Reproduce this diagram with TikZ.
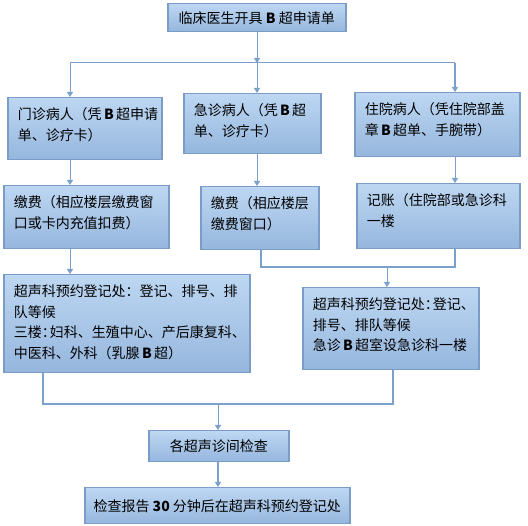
\documentclass[tikz,border=0pt]{standalone}
\usepackage{fontspec}
\setmainfont{Noto Sans CJK SC}
\usetikzlibrary{arrows.meta}

\definecolor{boxtop}{HTML}{BDD7F2}
\definecolor{boxbot}{HTML}{95B6DD}
\definecolor{boxline}{HTML}{7A9CC6}
\definecolor{connline}{HTML}{7BA0CB}

\newcommand*{\btxt}[3]{\parbox[t][#2pt][t]{#1pt}{\raggedright\rule{0pt}{18pt}#3}}
\newcommand*{\hcolon}{：\kern-6pt}
\newcommand*{\bB}{\,\textbf{B}\,}

\begin{document}
\begin{tikzpicture}
[
	x=1pt, y=-1pt,
	font=\fontsize{14}{20.5}\selectfont,
	cbox/.style={draw=boxline,line width=1.5pt,top color=boxtop,bottom color=boxbot,anchor=north west,inner sep=0pt},
	tbox/.style={draw=boxline,line width=1.5pt,top color=boxtop,bottom color=boxbot,anchor=north west,inner xsep=10pt,inner ysep=4pt},
	conn/.style={draw=connline,line width=1pt},
	mconn/.style={draw=connline,line width=1.5pt},
	>={Triangle[width=6pt,length=5pt]}
]
	\useasboundingbox (0,0) rectangle (528,526);

	% boxes
	\node[cbox,minimum width=178pt,minimum height=28pt] (top) at (167,3) {临床医生开具 \textbf{B} 超申请单};
	%
	\node[tbox] (mz) at (7,97) {\btxt{134}{54}{门诊病人（凭\bB 超申请\\单、诊疗卡）}};
	\node[tbox] (jz) at (183,93) {\btxt{117}{52}{急诊病人（凭\bB 超\\单、诊疗卡）}};
	\node[tbox] (zy) at (354,92) {\btxt{145}{56}{住院病人（凭住院部盖\\章\bB 超单、手腕带）}};
	%
	\node[tbox] (jfA) at (3,185) {\btxt{145}{55}{缴费（相应楼层缴费窗\\口或卡内充值扣费）}};
	\node[tbox] (jfB) at (200,186) {\btxt{98}{55}{缴费（相应楼层\\缴费窗口）}};
	\node[tbox] (jzh) at (356,183) {\btxt{143}{57}{记账（住院部或急诊科\\一楼}};
	%
	\node[tbox] (regA) at (3,274) {\btxt{226}{90}{超声科预约登记处：登记、排号、排\\队等候\\三楼\hcolon 妇科、生殖中心、产后康复科、\\中医科、外科（乳腺\bB 超）}};
	\node[tbox] (regB) at (302,287) {\btxt{156}{74}{超声科预约登记处\hcolon 登记、\\排号、排队等候\\急诊\bB 超室设急诊科一楼}};
	%
	\node[cbox,minimum width=140pt,minimum height=31pt] (jc) at (148,430) {各超声诊间检查};
	\node[cbox,minimum width=265pt,minimum height=36pt] (bg) at (84,487) {检查报告 \textbf{30} 分钟后在超声科预约登记处};

	% columns and junctions
	\coordinate (colA) at (70,0);
	\coordinate (colB) at (257,0);
	\coordinate (colC) at (455,0);
	\coordinate (colD) at (261,0);
	\coordinate (colE) at (43,0);
	\coordinate (colF) at (393,0);
	\coordinate (split) at (257,63);
	\coordinate (mergeB) at (387,267);
	\coordinate (mergeC) at (218,404);

	% first split
	\draw[conn,->] (top.south -| split) -- (split);
	\draw[conn] (colA |- split) -- (colC |- split);
	\draw[conn,->] (colA |- split) -- (colA |- mz.north);
	\draw[conn,->] (split) -- (split |- jz.north);
	\draw[mconn,->] (colC |- split) -- (colC |- zy.north);

	% patients to payment
	\draw[conn,->] (colA |- mz.south) -- (colA |- jfA.north);
	\draw[conn,->] (colB |- jz.south) -- (colB |- jfB.north);
	\draw[conn,->] (colC |- zy.south) -- (colC |- jzh.north);
	\draw[conn,->] (colA |- jfA.south) -- (colA |- regA.north);

	% merge of right two
	\draw[mconn] (colD |- jfB.south) -- (colD |- mergeB) -- (colC |- mergeB) -- (colC |- jzh.south);
	\draw[conn,->] (mergeB) -- (mergeB |- regB.north);

	% merge to exam and report
	\draw[mconn] (colE |- regA.south) -- (colE |- mergeC) -- (colF |- mergeC) -- (colF |- regB.south);
	\draw[conn,->] (mergeC) -- (mergeC |- jc.north);
	\draw[mconn,->] (jc.south -| mergeC) -- (bg.north -| mergeC);

\end{tikzpicture}
\end{document}
